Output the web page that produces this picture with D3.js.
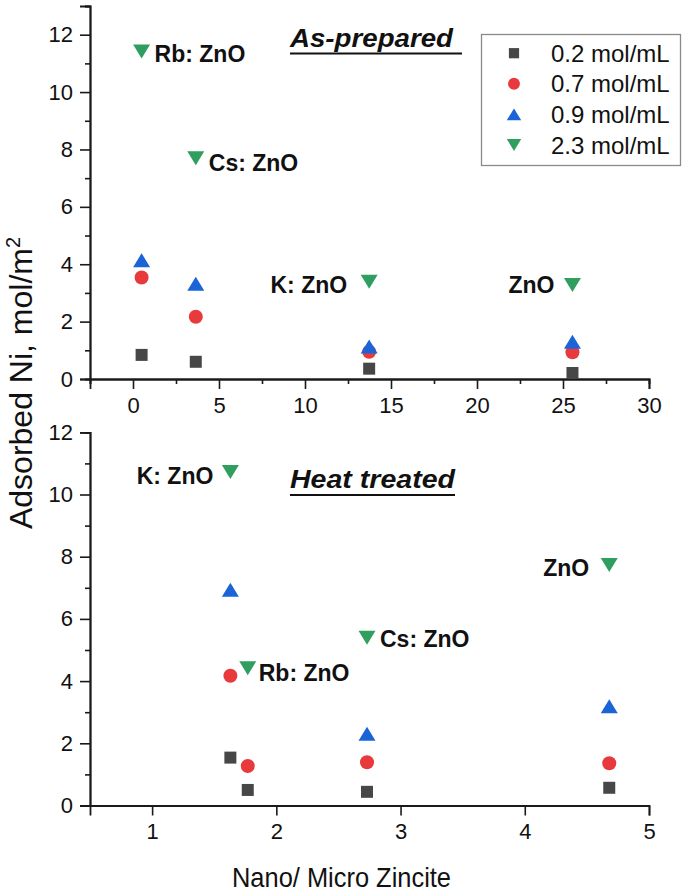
<!DOCTYPE html>
<html>
<head>
<meta charset="utf-8">
<script src="https://cdn.jsdelivr.net/npm/d3@7"></script>
<style>
  html, body { margin: 0; padding: 0; background: #fff; }
  svg { display: block; font-family: "Liberation Sans", Arial, Helvetica, sans-serif; }
</style>
</head>
<body>
<svg id="chart" width="685" height="893"></svg>
<script>
// ---------- DATA ----------
const seriesNames = ["0.2 mol/mL", "0.7 mol/mL", "0.9 mol/mL", "2.3 mol/mL"];

// As-prepared panel
const topSamples = ["Rb: ZnO", "Cs: ZnO", "K: ZnO", "ZnO"];
const topX = [0.5, 3.65, 13.73, 25.55];
const top02 = [0.84, 0.60, 0.36, 0.21];
const top07 = [3.54, 2.17, 0.95, 0.93];
const top09 = [4.14, 3.32, 1.13, 1.30];
const top23 = [11.41, 7.69, 3.39, 3.28];

// Heat treated panel
const botSamples = ["K: ZnO", "Rb: ZnO", "Cs: ZnO", "ZnO"];
const botX = [1.63, 1.77, 2.73, 4.68];
const bot02 = [1.54, 0.50, 0.44, 0.57];
const bot07 = [4.17, 1.27, 1.39, 1.36];
const bot09 = [6.94, null, 2.31, 3.19];
const bot23 = [10.72, 4.41, 5.39, 7.73];

const topXTicks = [0, 5, 10, 15, 20, 25, 30];
const topYTicks = [0, 2, 4, 6, 8, 10, 12];
const botXTicks = [1, 2, 3, 4, 5];
const botYTicks = [0, 2, 4, 6, 8, 10, 12];

// ---------- STYLE ----------
const colors = ["#474747", "#e8393c", "#1b64d8", "#2f9e5f"];
const shapes = ["square", "circle", "up", "down"];

const svg = d3.select("#chart");

function markerPath(shape) {
  if (shape === "square") { const s = 12; return `M${-s/2},${-s/2}h${s}v${s}h${-s}Z`; }
  if (shape === "circle") { const r = 7; return `M${r},0A${r},${r} 0 1,1 ${-r},0A${r},${r} 0 1,1 ${r},0Z`; }
  const w = 17, h = 14;
  if (shape === "up") return `M0,${-h/2}L${w/2},${h/2}L${-w/2},${h/2}Z`;
  return `M0,${h/2}L${w/2},${-h/2}L${-w/2},${-h/2}Z`;
}

function drawPanel(cfg) {
  const g = svg.append("g");
  const x = d3.scaleLinear().domain(cfg.xDomain).range(cfg.xRange);
  const y = d3.scaleLinear().domain(cfg.yDomain).range(cfg.yRange);

  // x axis (major + minor)
  const xAxisG = g.append("g").attr("transform", `translate(0,${cfg.yRange[0]})`);
  if (cfg.xMinor) {
    xAxisG.append("g").call(d3.axisBottom(x).tickValues(cfg.xMinor).tickSize(5).tickFormat(""));
  }
  xAxisG.append("g").call(d3.axisBottom(x).tickValues(cfg.xTicks).tickSize(10).tickPadding(8).tickFormat(d3.format("d")));
  // y axis
  const yAxisG = g.append("g").attr("transform", `translate(${cfg.xRange[0]},0)`);
  yAxisG.append("g").call(d3.axisLeft(y).tickValues(cfg.yMinor).tickSize(5).tickFormat(""));
  yAxisG.append("g").call(d3.axisLeft(y).tickValues(cfg.yTicks).tickSize(10).tickPadding(7).tickFormat(d3.format("d")));

  g.selectAll(".domain").attr("stroke", "#1a1a1a").attr("stroke-width", 1.8);
  g.selectAll(".tick line").attr("stroke", "#1a1a1a").attr("stroke-width", 1.6);
  g.selectAll(".tick text").attr("font-size", 22).attr("fill", "#111")
    .attr("font-family", "'Liberation Sans', Arial, sans-serif");
  // remove overlapping duplicate domains for minor axes
  xAxisG.selectAll("g:first-child .domain").attr("stroke-width", cfg.xMinor ? 1.8 : 1.8);

  // points
  cfg.series.forEach((vals, si) => {
    const pts = cfg.xs.map((xv, i) => ({ x: xv, y: vals[i] })).filter(d => d.y !== null);
    g.append("g").selectAll("path").data(pts).join("path")
      .attr("d", markerPath(shapes[si]))
      .attr("transform", d => `translate(${x(d.x)},${y(d.y)})`)
      .attr("fill", colors[si]);
  });

  // sample labels next to the 2.3 mol/mL points
  const lbl = g.append("g").attr("font-weight", "bold").attr("font-size", 23).attr("fill", "#111");
  cfg.labels.forEach((t, i) => {
    const o = cfg.labelOffsets[i];
    lbl.append("text")
      .attr("x", x(cfg.xs[i]) + o[0])
      .attr("y", y(cfg.series[3][i]) + o[1])
      .attr("text-anchor", o[2])
      .text(t);
  });

  // panel title
  const tt = g.append("text")
    .attr("x", cfg.title.x).attr("y", cfg.title.y)
    .attr("font-size", 26).attr("font-weight", "bold").attr("font-style", "italic")
    .attr("textLength", cfg.title.len).attr("lengthAdjust", "spacingAndGlyphs")
    .attr("fill", "#111")
    .text(cfg.title.text);
  g.append("line")
    .attr("x1", cfg.title.x).attr("x2", cfg.title.x + cfg.title.ul)
    .attr("y1", cfg.title.y + 7).attr("y2", cfg.title.y + 7)
    .attr("stroke", "#111").attr("stroke-width", 2.2);
  return { x, y };
}

drawPanel({
  xDomain: [-2.5, 30], xRange: [90, 649],
  yDomain: [0, 13], yRange: [379, 6],
  xTicks: topXTicks, xMinor: [-2.5, 2.5, 7.5, 12.5, 17.5, 22.5, 27.5],
  yTicks: topYTicks, yMinor: [1, 3, 5, 7, 9, 11, 13],
  xs: topX, series: [top02, top07, top09, top23],
  labels: topSamples,
  labelOffsets: [[13, 10, "start"], [13, 13, "start"], [-22, 11, "end"], [-18, 8, "end"]],
  title: { text: "As-prepared", x: 290, y: 46.5, len: 163, ul: 172 }
});

drawPanel({
  xDomain: [0.5, 5], xRange: [90, 649],
  yDomain: [0, 12], yRange: [805.5, 432.3],
  xTicks: botXTicks, xMinor: null,
  yTicks: botYTicks, yMinor: [1, 3, 5, 7, 9, 11],
  xs: botX, series: [bot02, bot07, bot09, bot23],
  labels: botSamples,
  labelOffsets: [[-17, 12, "end"], [11, 13, "start"], [13, 9, "start"], [-20, 11, "end"]],
  title: { text: "Heat treated", x: 290, y: 488, len: 165, ul: 165 }
});

// Legend
const leg = svg.append("g");
leg.append("rect").attr("x", 481.5).attr("y", 34.5).attr("width", 199).attr("height", 131)
  .attr("fill", "#fff").attr("stroke", "#8a8a8a").attr("stroke-width", 1.3);
seriesNames.forEach((name, i) => {
  const by = 61.7 + i * 30.6;
  leg.append("path").attr("d", markerPath(shapes[i]))
    .attr("transform", `translate(514,${by - 8.5}) scale(0.85)`)
    .attr("fill", colors[i]);
  leg.append("text").attr("x", 551).attr("y", by)
    .attr("font-size", 24).attr("fill", "#111").text(name);
});

// Axis titles
const yt = svg.append("text")
  .attr("transform", "translate(31.5,383) rotate(-90)")
  .attr("text-anchor", "middle").attr("font-size", 32).attr("fill", "#111");
yt.append("tspan").text("Adsorbed Ni, mol/m");
yt.append("tspan").attr("font-size", 20).attr("dy", -12).text("2");

svg.append("text")
  .attr("x", 232).attr("y", 886.5)
  .attr("font-size", 28).attr("fill", "#111")
  .attr("textLength", 219).attr("lengthAdjust", "spacingAndGlyphs")
  .text("Nano/ Micro Zincite");
</script>
</body>
</html>
